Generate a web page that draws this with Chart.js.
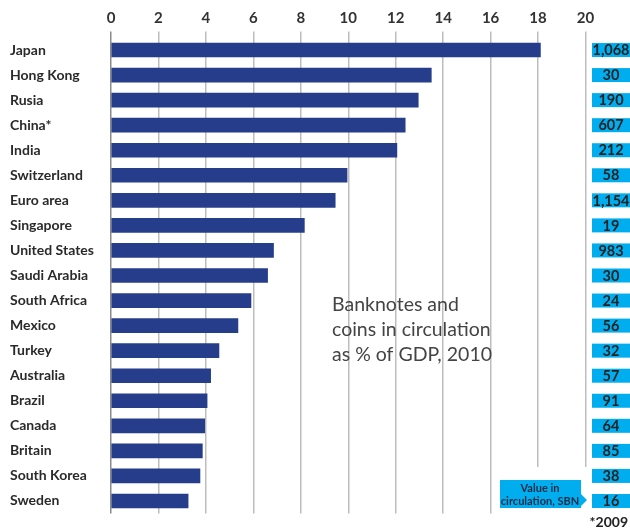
<!DOCTYPE html>
<html>
<head>
<meta charset="utf-8">
<script src="https://cdn.jsdelivr.net/npm/chart.js@4"></script>
<style>
  html, body { margin: 0; padding: 0; background: #fff; }
  #wrap { width: 630px; height: 531px; position: relative; }
</style>
</head>
<body>
<div id="wrap"><canvas id="c"></canvas></div>
<script>
const countries = ['Japan', 'Hong Kong', 'Rusia', 'China*', 'India', 'Switzerland', 'Euro area', 'Singapore',
  'United States', 'Saudi Arabia', 'South Africa', 'Mexico', 'Turkey', 'Australia', 'Brazil', 'Canada',
  'Britain', 'South Korea', 'Sweden'];
const pctGdp = [18.1, 13.5, 12.95, 12.4, 12.05, 9.95, 9.45, 8.15, 6.85, 6.6, 5.9, 5.35, 4.55, 4.2, 4.05, 3.95, 3.85, 3.75, 3.25];
const valueSbn = [1068, 30, 190, 607, 212, 58, 1154, 19, 983, 30, 24, 56, 32, 57, 91, 64, 85, 38, 16];
const xTicks = [0, 2, 4, 6, 8, 10, 12, 14, 16, 18, 20];
const noteLines = ['Banknotes and', 'coins in circulation', 'as % of GDP, 2010'];

const FONT = 'Lato, "Open Sans", sans-serif';
const CYAN = '#00aeef';

const extras = {
  id: 'extras',
  afterDraw(chart) {
    const { ctx, chartArea, scales: { x, y } } = chart;
    ctx.save();

    // value boxes on the right
    ctx.font = 'bold 14.5px ' + FONT;
    ctx.textAlign = 'center';
    ctx.textBaseline = 'middle';
    valueSbn.forEach((v, i) => {
      const cy = y.getPixelForValue(i);
      ctx.fillStyle = CYAN;
      ctx.fillRect(592, cy - 7, 38, 14);
      ctx.fillStyle = '#222';
      ctx.fillText(v.toLocaleString('en-US'), 611, cy + 0.5);
    });

    // note text
    ctx.font = '19.5px ' + FONT;
    ctx.textAlign = 'left';
    ctx.fillStyle = '#444';
    noteLines.forEach((t, i) => ctx.fillText(t, 332, 305 + i * 25));

    // callout
    ctx.fillStyle = '#fff';
    ctx.fillRect(496, 467, 94, chartArea.bottom - 467 + 2);
    ctx.fillStyle = CYAN;
    ctx.beginPath();
    ctx.moveTo(500, 480);
    ctx.lineTo(581, 480);
    ctx.lineTo(581, 494);
    ctx.lineTo(587, 500);
    ctx.lineTo(581, 506);
    ctx.lineTo(581, 508);
    ctx.lineTo(500, 508);
    ctx.closePath();
    ctx.fill();
    ctx.fillStyle = '#1c2a44';
    ctx.font = 'bold 11px ' + FONT;
    ctx.textAlign = 'center';
    ctx.fillText('Value in', 540, 488);
    ctx.fillText('circulation, SBN', 540, 501);

    // footnote
    ctx.fillStyle = '#222';
    ctx.font = 'bold 14px ' + FONT;
    ctx.textAlign = 'right';
    ctx.fillText('*2009', 628, 522);
    ctx.restore();
  }
};

new Chart(document.getElementById('c').getContext('2d'), {
  type: 'bar',
  data: {
    labels: countries,
    datasets: [{
      data: pctGdp,
      backgroundColor: '#263d8b',
      barThickness: 14,
      borderWidth: 0,
    }],
  },
  options: {
    indexAxis: 'y',
    responsive: true,
    maintainAspectRatio: false,
    animation: false,
    layout: { padding: { left: 10, right: 44.5, top: 0, bottom: 17.5 } },
    plugins: { legend: { display: false }, tooltip: { enabled: false } },
    scales: {
      x: {
        position: 'top',
        min: 0,
        max: 20,
        afterBuildTicks: axis => { axis.ticks = xTicks.map(v => ({ value: v })); },
        afterFit: axis => { axis.height = 37.5; },
        ticks: { color: '#333', font: { family: FONT, size: 15, weight: 'bold' }, padding: 4 },
        grid: {
          color: c => (c.tick && c.tick.value === 0 ? '#8a8a8a' : '#bdbdbd'),
          lineWidth: 1.5,
          tickLength: 6,
        },
        border: { display: false },
      },
      y: {
        afterFit: axis => { axis.width = 101; },
        ticks: { color: '#2a2a2a', crossAlign: 'far', font: { family: FONT, size: 14, weight: 'bold' } },
        grid: { display: false },
        border: { display: false },
      },
    },
  },
  plugins: [extras],
});
</script>
</body>
</html>
